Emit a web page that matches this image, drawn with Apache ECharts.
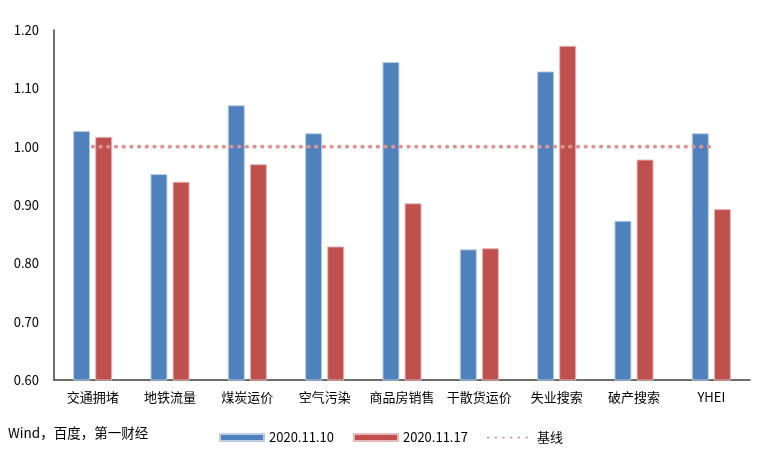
<!DOCTYPE html>
<html>
<head>
<meta charset="utf-8">
<script src="https://cdn.jsdelivr.net/npm/echarts@6/dist/echarts.min.js"></script>
<style>html,body{margin:0;padding:0;background:#fff}#c{width:757px;height:459px}</style>
</head>
<body>
<div id="c"></div>
<script>
const categories = ['交通拥堵','地铁流量','煤炭运价','空气污染','商品房销售','干散货运价','失业搜索','破产搜索','YHEI'];
const series1110 = [1.027, 0.953, 1.071, 1.023, 1.145, 0.824, 1.129, 0.873, 1.023];
const series1117 = [1.017, 0.940, 0.970, 0.829, 0.903, 0.826, 1.173, 0.978, 0.893];
const baseline = [1.00, 1.00, 1.00, 1.00, 1.00, 1.00, 1.00, 1.00, 1.00];
const yTicks = ['0.60','0.70','0.80','0.90','1.00','1.10','1.20'];
const sourceText = 'Wind，百度，第一财经';

const font = '"Noto Sans CJK SC", "Noto Sans", sans-serif';
const chart = echarts.init(document.getElementById('c'), null, {renderer: 'canvas'});
chart.setOption({
  animation: false,
  backgroundColor: '#fff',
  grid: {left: 54, right: 7, top: 30, bottom: 79, containLabel: false},
  xAxis: {
    type: 'category',
    data: categories,
    axisLine: {lineStyle: {color: '#404040', width: 1.5}},
    axisTick: {show: false},
    axisLabel: {color: '#000', fontSize: 13, fontFamily: font, margin: 11, interval: 0}
  },
  yAxis: {
    type: 'value',
    min: 0.6, max: 1.2, interval: 0.1,
    axisLine: {show: true, lineStyle: {color: '#404040', width: 1.5}},
    axisTick: {show: false},
    splitLine: {show: false},
    axisLabel: {color: '#000', fontSize: 13, fontFamily: font, margin: 15,
      formatter: function (v) { const s = v.toFixed(2); return yTicks.indexOf(s) >= 0 ? s : ''; }}
  },
  legend: {
    left: 214, top: 426,
    itemWidth: 44, itemHeight: 7, itemGap: 19,
    textStyle: {color: '#000', fontSize: 13, fontFamily: font},
    data: [
      {name: '2020.11.10', icon: 'rect'},
      {name: '2020.11.17', icon: 'rect'},
      {name: '基线', itemStyle: {color: 'rgba(0,0,0,0)', borderWidth: 0}}
    ]
  },
  graphic: [{
    type: 'text', left: 8, top: 426,
    style: {text: sourceText, fill: '#000', font: '13.5px ' + font}
  }],
  series: [
    {
      name: '2020.11.10', type: 'bar', data: series1110,
      barWidth: 17, barGap: '30%',
      itemStyle: {color: '#4F81BD', borderColor: '#B9CDE5', borderWidth: 1}
    },
    {
      name: '2020.11.17', type: 'bar', data: series1117,
      barWidth: 17,
      itemStyle: {color: '#C0504D', borderColor: '#E6B9B8', borderWidth: 1}
    },
    {
      name: '基线', type: 'line', data: baseline,
      symbol: 'none', z: 5,
      lineStyle: {color: '#DF9494', width: 3.8, type: [0.5, 7.2], cap: 'round'},
      itemStyle: {color: '#DF9494'}
    }
  ]
});
</script>
</body>
</html>
